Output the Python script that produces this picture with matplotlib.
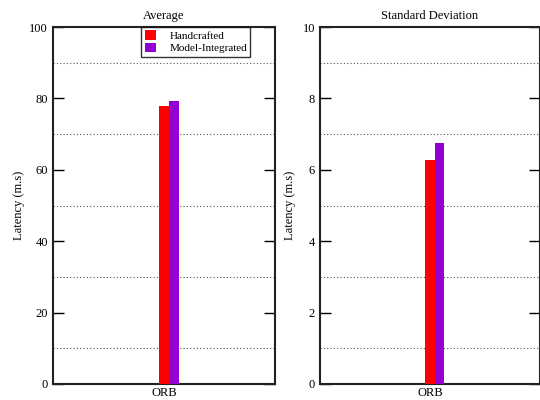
import numpy as np
import matplotlib
matplotlib.use("Agg")
import matplotlib.pyplot as plt
from matplotlib.ticker import MultipleLocator

# data
categories = ["ORB"]
series = ["Handcrafted", "Model-Integrated"]
avg_values = [77.8, 79.3]
std_values = [6.27, 6.76]
colors = ["#ff0000", "#9400d3"]

plt.rcParams['font.family'] = ['Liberation Serif', 'DejaVu Serif']
plt.rcParams['font.size'] = 9

fig = plt.figure(figsize=(5.4, 4.0), dpi=100)
ax1 = fig.add_axes([0.098, 0.04, 0.411, 0.8925])
ax2 = fig.add_axes([0.5926, 0.04, 0.407, 0.8925])

def draw_panel(ax, values, title, ymax, major, minor, label_x):
    x = np.arange(len(categories))
    width = 0.085
    for i, (name, val) in enumerate(zip(series, values)):
        ax.bar(x + i * 0.09, [val], width, color=colors[i], label=name,
               edgecolor='none', zorder=3)
    ax.set_xlim(-1, 1)
    ax.set_ylim(0, ymax)
    ax.set_xticks(x)
    ax.set_xticklabels(categories)
    ax.yaxis.set_major_locator(MultipleLocator(major))
    # dotted grid only at the in-between values
    for g in np.arange(minor, ymax, major):
        ax.axhline(g, color='#555555', linestyle=(0, (1, 2)), linewidth=0.8, zorder=1)
    ax.tick_params(axis='y', direction='in', length=8, width=1, right=True, pad=3.5)
    ax.tick_params(axis='x', length=0, pad=2)
    for s in ax.spines.values():
        s.set_linewidth(1.5)
        s.set_color('#222222')
    ax.set_title(title, fontsize=9, pad=6)
    ax.set_ylabel("Latency (m.s)", fontsize=9)
    ax.yaxis.set_label_coords(label_x, 0.5)

draw_panel(ax1, avg_values, "Average", 100, 20, 10, -0.126)
draw_panel(ax2, std_values, "Standard Deviation", 10, 2, 1, -0.109)

leg = ax1.legend(loc='upper center', bbox_to_anchor=(0.644, 1.0), fontsize=8,
                 frameon=True, fancybox=False, borderpad=0.3, handlelength=1.0,
                 handleheight=0.9, handletextpad=1.2, labelspacing=0.2,
                 borderaxespad=0.0)
leg.get_frame().set_edgecolor('black')
leg.get_frame().set_linewidth(1.0)

fig.savefig("out.png", dpi=100)
